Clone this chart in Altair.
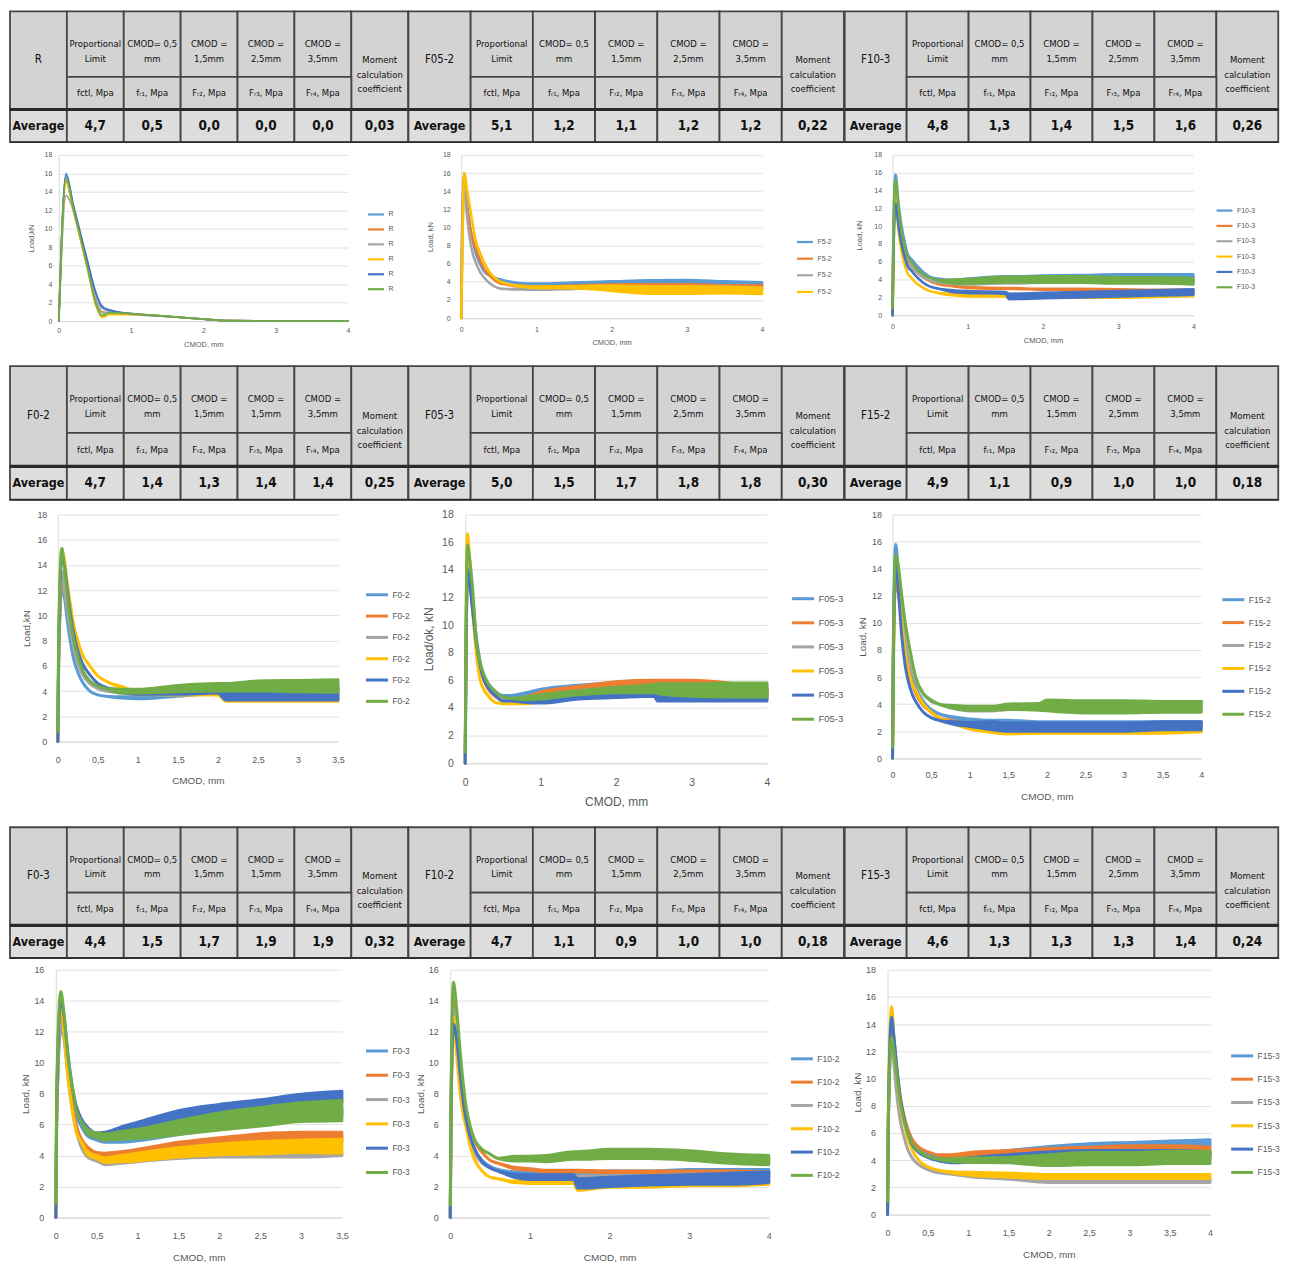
import altair as alt
import pandas as pd

K = 0.987


def s(v):
    return round(v * K, 2)


COLORS = ["#5B9BD5", "#ED7D31", "#A5A5A5", "#FFC000", "#4472C4", "#70AD47"]
TFONT = "'Liberation Sans Narrow', 'DejaVu Sans Condensed', 'Liberation Sans', sans-serif"
CFONT = "'Liberation Sans', Arial, sans-serif"

# ---------------- table texts / values ----------------
HEAD_TOP = ["Proportional\nLimit", "CMOD= 0,5\nmm", "CMOD =\n1,5mm", "CMOD =\n2,5mm", "CMOD =\n3,5mm"]
HEAD_TOP_F0 = ["Proportional\nLimit", "CMOD= 0,5\nmm", "CMOD =\n1,5mm", "CMOD =\n1,5mm", "CMOD =\n3,5mm"]
HEAD_SUB = ["fctl, Mpa", "fᵣ₁, Mpa", "Fᵣ₂, Mpa", "Fᵣ₃, Mpa", "Fᵣ₄, Mpa"]
HEAD_MOMENT = "Moment\ncalculation\ncoefficient"

AVG_R = [4.7, 0.5, 0.0, 0.0, 0.0, 0.03]
AVG_F05_2 = [5.1, 1.2, 1.1, 1.2, 1.2, 0.22]
AVG_F10_3 = [4.8, 1.3, 1.4, 1.5, 1.6, 0.26]
AVG_F0_2 = [4.7, 1.4, 1.3, 1.4, 1.4, 0.25]
AVG_F05_3 = [5.0, 1.5, 1.7, 1.8, 1.8, 0.30]
AVG_F15_2 = [4.9, 1.1, 0.9, 1.0, 1.0, 0.18]
AVG_F0_3 = [4.4, 1.5, 1.7, 1.9, 1.9, 0.32]
AVG_F10_2 = [4.7, 1.1, 0.9, 1.0, 1.0, 0.18]
AVG_F15_3 = [4.6, 1.3, 1.3, 1.3, 1.4, 0.24]

# ---------------- curves (CMOD mm, load kN, band width kN) ----------------
R_X = [0, 0.1, 0.2, 0.3, 0.4, 0.5, 0.6, 0.7, 1.0, 1.5, 2.0, 2.3, 3.0, 4.0]
R_Y = [
    [0, 16.0, 12.5, 9.3, 6.2, 3.2, 1.4, 1.1, 0.8, 0.5, 0.2, 0.05, 0, 0],
    [0, 15.2, 12.2, 9.0, 5.8, 2.6, 1.0, 0.9, 0.8, 0.5, 0.2, 0.05, 0, 0],
    [0, 13.6, 12.0, 9.0, 5.8, 2.6, 0.9, 0.9, 0.7, 0.5, 0.2, 0.05, 0, 0],
    [0, 15.0, 12.0, 8.8, 5.5, 2.0, 0.4, 0.7, 0.7, 0.5, 0.2, 0.05, 0, 0],
    [0, 15.8, 12.6, 9.5, 6.4, 3.4, 1.6, 1.2, 0.8, 0.5, 0.2, 0.05, 0, 0],
    [0, 15.5, 12.2, 9.0, 5.7, 2.2, 0.6, 0.9, 0.8, 0.5, 0.2, 0.05, 0, 0],
]

F5_2_X = [0, 0.01, 0.04, 0.08, 0.12, 0.16, 0.2, 0.25, 0.3, 0.4, 0.5, 0.6, 0.8, 1.0, 1.5, 2.0, 2.5, 3.0, 3.5, 4.0]
F5_2_Y = [
    [0, 9, 16.0, 12.5, 10.0, 8.3, 7.0, 6.0, 5.2, 4.6, 4.3, 4.1, 3.8, 3.7, 3.8, 3.9, 4.0, 4.0, 3.9, 3.8],
    [0, 7, 15.5, 12.0, 9.8, 8.5, 7.5, 6.4, 5.5, 4.5, 3.9, 3.7, 3.5, 3.4, 3.5, 3.6, 3.6, 3.6, 3.5, 3.5],
    [0, 6, 14.5, 11.0, 8.5, 6.9, 6.0, 5.1, 4.5, 3.7, 3.3, 3.2, 3.2, 3.2, 3.3, 3.4, 3.4, 3.4, 3.4, 3.3],
    [0, 5, 16.0, 14.0, 12.0, 10.0, 8.3, 7.2, 6.2, 4.8, 4.1, 3.8, 3.5, 3.4, 3.4, 3.3, 3.1, 3.1, 3.1, 3.0],
]
F5_2_W = [
    [0] * 12 + [0.1, 0.2, 0.25, 0.3, 0.35, 0.4, 0.3, 0.3],
    [0] * 12 + [0.1, 0.15, 0.2, 0.2, 0.25, 0.25, 0.25, 0.25],
    [0] * 12 + [0.1, 0.15, 0.15, 0.15, 0.15, 0.15, 0.15, 0.15],
    [0] * 12 + [0.1, 0.15, 0.2, 0.6, 0.8, 0.8, 0.7, 0.7],
]

F10_3_X = [0, 0.01, 0.04, 0.08, 0.12, 0.16, 0.2, 0.25, 0.3, 0.4, 0.5, 0.6, 0.8, 1.0, 1.5, 1.55, 2.0, 2.5, 3.0, 3.5, 4.0]
F10_3_Y = [
    [0, 8, 15.8, 12.5, 10.0, 8.3, 6.9, 6.3, 5.8, 4.9, 4.3, 4.1, 3.9, 4.0, 4.2, 4.2, 4.3, 4.3, 4.4, 4.4, 4.4],
    [0, 7, 14.5, 11.0, 8.8, 7.2, 6.2, 5.5, 5.0, 4.3, 3.8, 3.5, 3.3, 3.1, 3.0, 3.0, 2.9, 2.9, 2.85, 2.8, 2.8],
    [0, 7, 14.0, 10.5, 8.5, 7.0, 6.0, 5.4, 5.0, 4.3, 3.9, 3.7, 3.6, 3.6, 3.7, 3.7, 3.8, 3.8, 3.8, 3.8, 3.8],
    [0, 6, 13.5, 9.5, 7.2, 5.7, 4.7, 4.2, 3.7, 3.1, 2.7, 2.5, 2.3, 2.2, 2.2, 2.0, 2.1, 2.1, 2.1, 2.2, 2.3],
    [0, 6, 12.5, 10.0, 8.0, 6.6, 5.5, 5.0, 4.5, 3.7, 3.2, 3.0, 2.7, 2.6, 2.5, 2.1, 2.2, 2.3, 2.4, 2.5, 2.6],
    [0.8, 8, 15.2, 12.0, 9.5, 7.8, 6.6, 6.0, 5.4, 4.6, 4.2, 3.9, 3.8, 3.8, 4.0, 4.0, 4.0, 4.0, 3.9, 3.9, 3.8],
]
F10_3_W = [
    [0] * 12 + [0.1, 0.2, 0.3, 0.3, 0.3, 0.4, 0.4, 0.4, 0.4],
    [0] * 12 + [0.1, 0.1, 0.1, 0.1, 0.1, 0.1, 0.1, 0.1, 0.1],
    [0] * 12 + [0.2, 0.3, 0.3, 0.3, 0.3, 0.3, 0.3, 0.3, 0.3],
    [0] * 12 + [0.15, 0.2, 0.2, 0.3, 0.3, 0.3, 0.3, 0.3, 0.3],
    [0] * 12 + [0.2, 0.2, 0.2, 0.6, 0.6, 0.6, 0.6, 0.6, 0.6],
    [0] * 12 + [0.4, 0.5, 0.6, 0.6, 0.7, 0.7, 0.7, 0.7, 0.7],
]

F0_2_X = [0, 0.01, 0.05, 0.08, 0.12, 0.16, 0.2, 0.25, 0.3, 0.4, 0.5, 0.6, 0.8, 1.0, 1.5, 2.0, 2.1, 2.5, 3.0, 3.5]
F0_2_Y = [
    [0, 6, 12.0, 11.5, 9.5, 7.8, 6.5, 5.5, 4.8, 4.0, 3.7, 3.6, 3.5, 3.5, 3.7, 3.9, 3.9, 4.0, 4.1, 4.1],
    [0, 6, 12.5, 12.0, 10.5, 9.0, 7.6, 6.4, 5.5, 4.7, 4.3, 4.1, 4.0, 4.0, 4.0, 4.1, 4.1, 4.1, 4.2, 4.2],
    [0, 6, 13.5, 12.0, 10.3, 8.8, 7.4, 6.2, 5.4, 4.6, 4.2, 4.0, 3.9, 3.8, 3.9, 4.0, 4.0, 4.1, 4.1, 4.1],
    [0, 7, 15.3, 14.5, 12.5, 10.8, 9.2, 8.0, 7.0, 6.0, 5.2, 4.8, 4.3, 3.9, 3.8, 3.8, 3.4, 3.4, 3.4, 3.4],
    [0, 7, 14.5, 14.0, 12.0, 10.0, 8.5, 7.2, 6.3, 5.3, 4.6, 4.3, 4.0, 3.9, 3.9, 4.0, 3.6, 3.6, 3.6, 3.6],
    [0.8, 8, 15.3, 14.0, 11.5, 9.5, 8.0, 6.8, 5.8, 4.8, 4.4, 4.2, 4.0, 4.0, 4.2, 4.3, 4.3, 4.4, 4.4, 4.4],
]
F0_2_W = [
    [0] * 12 + [0.1, 0.2, 0.2, 0.2, 0.2, 0.2, 0.2, 0.2],
    [0] * 12 + [0.1, 0.2, 0.2, 0.2, 0.2, 0.2, 0.2, 0.2],
    [0] * 12 + [0.1, 0.2, 0.2, 0.2, 0.2, 0.2, 0.2, 0.2],
    [0] * 12 + [0.1, 0.2, 0.2, 0.2, 0.4, 0.4, 0.4, 0.4],
    [0] * 12 + [0.2, 0.3, 0.3, 0.3, 0.6, 0.6, 0.6, 0.6],
    [0] * 12 + [0.3, 0.3, 0.5, 0.6, 0.6, 0.8, 0.9, 1.0],
]

F05_3_X = [0, 0.01, 0.03, 0.06, 0.1, 0.15, 0.2, 0.25, 0.3, 0.4, 0.5, 0.6, 0.8, 1.0, 1.5, 2.0, 2.5, 2.55, 3.0, 3.5, 4.0]
F05_3_Y = [
    [0, 8, 14.5, 13.5, 11.5, 9.0, 7.3, 6.3, 5.8, 5.2, 4.9, 4.9, 5.0, 5.2, 5.5, 5.7, 5.8, 5.8, 5.8, 5.6, 5.3],
    [0, 7, 14.0, 13.0, 11.0, 8.6, 7.0, 6.0, 5.4, 4.8, 4.6, 4.6, 4.7, 5.0, 5.4, 5.7, 5.8, 5.8, 5.8, 5.6, 5.2],
    [0, 7, 14.5, 13.5, 11.2, 8.8, 7.1, 6.1, 5.6, 5.0, 4.7, 4.6, 4.7, 4.8, 5.1, 5.3, 5.4, 5.4, 5.3, 5.3, 5.2],
    [0, 9, 16.6, 14.5, 11.0, 7.8, 6.0, 5.3, 4.9, 4.4, 4.3, 4.3, 4.4, 4.6, 4.9, 5.1, 5.2, 5.2, 5.2, 5.1, 5.0],
    [0, 7, 14.0, 13.0, 11.0, 8.6, 7.0, 6.0, 5.5, 4.9, 4.5, 4.5, 4.5, 4.5, 4.8, 4.9, 5.0, 4.7, 4.7, 4.7, 4.7],
    [0.8, 9, 15.8, 14.8, 12.5, 8.8, 7.2, 6.4, 5.8, 5.2, 4.8, 4.7, 4.7, 4.8, 5.1, 5.3, 5.4, 5.4, 5.3, 5.3, 5.3],
]
F05_3_W = [
    [0] * 12 + [0.2, 0.3, 0.3, 0.3, 0.3, 0.3, 0.3, 0.3, 0.3],
    [0] * 12 + [0.2, 0.3, 0.3, 0.4, 0.4, 0.4, 0.4, 0.4, 0.4],
    [0] * 12 + [0.2, 0.2, 0.3, 0.3, 0.3, 0.3, 0.3, 0.3, 0.3],
    [0] * 12 + [0.2, 0.3, 0.3, 0.4, 0.4, 0.4, 0.4, 0.4, 0.4],
    [0] * 12 + [0.2, 0.3, 0.3, 0.3, 0.3, 0.4, 0.4, 0.4, 0.4],
    [0] * 12 + [0.2, 0.3, 0.3, 0.4, 0.6, 0.7, 0.9, 1.0, 1.0],
]

F15_2_X = [0, 0.01, 0.04, 0.08, 0.12, 0.16, 0.2, 0.25, 0.3, 0.4, 0.5, 0.6, 0.8, 1.0, 1.3, 1.5, 1.9, 2.0, 2.5, 3.0, 3.5, 4.0]
F15_2_Y = [
    [0, 8, 15.8, 13.5, 10.8, 8.5, 7.0, 5.9, 5.2, 4.2, 3.6, 3.3, 3.0, 2.8, 2.7, 2.7, 2.6, 2.6, 2.6, 2.6, 2.6, 2.6],
    [0, 6, 13.0, 12.0, 10.0, 8.2, 6.8, 5.6, 4.8, 3.9, 3.4, 3.0, 2.7, 2.5, 2.5, 2.4, 2.4, 2.4, 2.4, 2.4, 2.4, 2.4],
    [0, 7, 14.5, 13.0, 11.0, 9.0, 7.6, 6.5, 5.7, 4.7, 4.2, 4.0, 3.7, 3.6, 3.6, 3.7, 3.8, 3.8, 3.9, 4.0, 4.1, 4.1],
    [0, 6, 14.0, 12.5, 10.0, 8.0, 6.6, 5.6, 5.0, 4.0, 3.4, 3.0, 2.6, 2.3, 2.1, 2.0, 2.0, 2.0, 2.0, 2.0, 2.0, 2.1],
    [0, 7, 14.5, 12.0, 9.0, 7.0, 5.8, 4.8, 4.2, 3.4, 3.0, 2.8, 2.6, 2.5, 2.4, 2.3, 2.3, 2.3, 2.3, 2.3, 2.4, 2.4],
    [0.8, 8, 15.0, 14.0, 12.0, 10.2, 8.8, 7.3, 6.0, 4.8, 4.3, 4.0, 3.8, 3.7, 3.7, 3.8, 3.8, 3.9, 3.8, 3.8, 3.8, 3.8],
]
F15_2_W = [
    [0] * 12 + [0.1, 0.2, 0.2, 0.2, 0.2, 0.2, 0.2, 0.2, 0.2, 0.2],
    [0] * 12 + [0.1, 0.2, 0.2, 0.2, 0.2, 0.2, 0.2, 0.2, 0.2, 0.2],
    [0] * 12 + [0.1, 0.2, 0.2, 0.2, 0.2, 0.2, 0.2, 0.2, 0.2, 0.2],
    [0] * 12 + [0.1, 0.3, 0.4, 0.4, 0.3, 0.3, 0.3, 0.3, 0.3, 0.3],
    [0] * 12 + [0.2, 0.3, 0.6, 0.6, 0.6, 0.6, 0.6, 0.6, 0.6, 0.6],
    [0] * 12 + [0.2, 0.3, 0.3, 0.4, 0.5, 0.8, 0.9, 0.9, 0.8, 0.8],
]

F0_3_X = [0, 0.01, 0.06, 0.1, 0.15, 0.2, 0.25, 0.3, 0.4, 0.5, 0.6, 0.8, 1.0, 1.5, 2.0, 2.5, 3.0, 3.5]
F0_3_Y = [
    [0, 6, 12.0, 11.8, 9.8, 8.0, 6.6, 6.0, 5.3, 5.1, 5.0, 5.0, 5.1, 5.5, 5.9, 6.3, 6.6, 6.8],
    [0, 6, 13.0, 12.0, 9.5, 7.5, 6.0, 5.2, 4.4, 4.1, 4.0, 4.1, 4.2, 4.6, 4.9, 5.1, 5.2, 5.2],
    [0, 6, 12.5, 11.5, 9.0, 7.0, 5.6, 4.7, 3.9, 3.7, 3.5, 3.6, 3.7, 3.9, 4.0, 4.0, 4.0, 4.1],
    [0, 7, 14.0, 12.0, 9.0, 7.0, 5.5, 5.0, 4.1, 3.9, 3.7, 3.8, 3.9, 4.2, 4.4, 4.5, 4.6, 4.6],
    [0, 7, 14.0, 13.0, 10.5, 8.5, 7.2, 6.5, 5.6, 5.3, 5.3, 5.6, 5.9, 6.6, 7.0, 7.3, 7.6, 7.8],
    [0.9, 8, 14.6, 13.2, 10.3, 8.5, 7.0, 6.3, 5.5, 5.3, 5.2, 5.3, 5.4, 5.8, 6.2, 6.5, 6.8, 6.9],
]
F0_3_W = [
    [0] * 8 + [0.2, 0.2, 0.3, 0.3, 0.3, 0.3, 0.3, 0.3, 0.3, 0.3],
    [0] * 8 + [0.2, 0.2, 0.3, 0.3, 0.4, 0.5, 0.5, 0.6, 0.6, 0.6],
    [0] * 8 + [0.1, 0.1, 0.2, 0.2, 0.2, 0.2, 0.2, 0.2, 0.2, 0.2],
    [0] * 8 + [0.2, 0.2, 0.3, 0.4, 0.5, 0.6, 0.7, 0.8, 0.8, 0.9],
    [0] * 8 + [0.3, 0.3, 0.4, 0.5, 0.5, 0.6, 0.6, 0.6, 0.7, 0.7],
    [0] * 8 + [0.3, 0.3, 0.4, 0.5, 0.6, 0.9, 1.1, 1.2, 1.2, 1.3],
]

F10_2_X = [0, 0.01, 0.04, 0.08, 0.12, 0.16, 0.2, 0.25, 0.3, 0.4, 0.5, 0.6, 0.8, 1.0, 1.2, 1.55, 1.6, 2.0, 2.5, 3.0, 3.5, 4.0]
F10_2_Y = [
    [0, 7, 14.0, 12.5, 10.0, 8.0, 6.6, 5.3, 4.5, 3.7, 3.3, 3.1, 2.9, 2.8, 2.8, 2.8, 2.8, 2.9, 2.9, 3.0, 3.0, 3.0],
    [0, 7, 14.0, 12.5, 10.2, 8.3, 7.0, 5.8, 5.0, 4.2, 3.7, 3.5, 3.2, 3.1, 3.0, 3.0, 3.0, 2.95, 2.95, 2.95, 2.95, 2.9],
    [0, 6, 13.5, 11.5, 9.0, 7.2, 6.0, 4.9, 4.2, 3.5, 3.2, 3.0, 2.7, 2.6, 2.6, 2.6, 2.6, 2.6, 2.6, 2.7, 2.7, 2.7],
    [0, 6, 13.0, 10.5, 8.2, 6.7, 5.8, 4.6, 3.8, 3.0, 2.6, 2.5, 2.3, 2.3, 2.3, 2.3, 1.9, 2.1, 2.1, 2.2, 2.2, 2.3],
    [0, 7, 12.5, 11.5, 9.5, 7.6, 6.3, 5.2, 4.5, 3.6, 3.2, 3.0, 2.7, 2.6, 2.6, 2.6, 2.2, 2.3, 2.4, 2.45, 2.5, 2.6],
    [0.8, 8, 15.2, 13.5, 11.0, 8.8, 7.1, 5.9, 5.1, 4.4, 4.1, 3.8, 3.8, 3.8, 3.8, 4.0, 4.0, 4.1, 4.1, 4.0, 3.8, 3.7],
]
F10_2_W = [
    [0] * 12 + [0.1, 0.2, 0.2, 0.2, 0.2, 0.2, 0.2, 0.2, 0.2, 0.2],
    [0] * 12 + [0.1, 0.1, 0.1, 0.1, 0.1, 0.1, 0.1, 0.1, 0.1, 0.1],
    [0] * 12 + [0.1, 0.2, 0.2, 0.2, 0.2, 0.2, 0.2, 0.2, 0.2, 0.2],
    [0] * 12 + [0.1, 0.2, 0.2, 0.2, 0.3, 0.3, 0.3, 0.3, 0.3, 0.3],
    [0] * 12 + [0.2, 0.3, 0.3, 0.3, 0.6, 0.6, 0.6, 0.6, 0.7, 0.7],
    [0] * 12 + [0.3, 0.3, 0.4, 0.5, 0.5, 0.6, 0.6, 0.6, 0.6, 0.6],
]

F15_3_X = [0, 0.01, 0.05, 0.08, 0.12, 0.16, 0.2, 0.25, 0.3, 0.4, 0.5, 0.6, 0.8, 1.0, 1.5, 2.0, 2.5, 3.0, 3.5, 4.0]
F15_3_Y = [
    [0, 7, 14.0, 12.5, 10.2, 8.4, 7.2, 6.2, 5.5, 4.8, 4.5, 4.3, 4.2, 4.3, 4.5, 4.8, 5.0, 5.1, 5.2, 5.3],
    [0, 7, 14.0, 12.8, 10.5, 8.6, 7.4, 6.3, 5.6, 4.9, 4.6, 4.4, 4.3, 4.4, 4.5, 4.6, 4.7, 4.8, 4.8, 4.7],
    [0, 6, 13.0, 11.0, 8.5, 6.8, 5.8, 4.8, 4.2, 3.6, 3.3, 3.1, 3.0, 2.9, 2.7, 2.5, 2.5, 2.5, 2.5, 2.5],
    [0, 8, 15.3, 13.0, 10.0, 8.0, 6.8, 5.6, 4.8, 3.9, 3.5, 3.3, 3.1, 3.0, 2.9, 2.8, 2.8, 2.8, 2.8, 2.8],
    [0, 7, 14.5, 13.0, 10.5, 8.5, 7.2, 6.0, 5.2, 4.5, 4.2, 4.0, 3.9, 4.0, 4.2, 4.4, 4.5, 4.5, 4.5, 4.4],
    [1.0, 7, 13.0, 12.0, 10.0, 8.2, 7.0, 6.0, 5.3, 4.6, 4.3, 4.1, 4.0, 4.0, 4.0, 4.0, 4.1, 4.1, 4.2, 4.2],
]
F15_3_W = [
    [0] * 12 + [0.2, 0.3, 0.4, 0.4, 0.4, 0.4, 0.4, 0.4],
    [0] * 12 + [0.2, 0.3, 0.4, 0.5, 0.5, 0.5, 0.5, 0.5],
    [0] * 12 + [0.1, 0.2, 0.2, 0.3, 0.3, 0.3, 0.3, 0.3],
    [0] * 12 + [0.1, 0.2, 0.3, 0.3, 0.3, 0.3, 0.3, 0.3],
    [0] * 12 + [0.2, 0.3, 0.4, 0.4, 0.4, 0.4, 0.4, 0.4],
    [0] * 12 + [0.2, 0.3, 0.4, 0.8, 0.9, 0.9, 0.9, 0.9],
]

XT_4 = [0, 1, 2, 3, 4]
XT_35 = [0, 0.5, 1, 1.5, 2, 2.5, 3, 3.5]
XT_4H = [0, 0.5, 1, 1.5, 2, 2.5, 3, 3.5, 4]

# ---------------- helpers ----------------
RES = dict(x="independent", y="independent", color="independent",
           stroke="independent", fill="independent")


def spacer(w, h):
    w, h = max(w, 1), max(h, 1)
    return alt.Chart(pd.DataFrame({"v": [0]})).mark_point(opacity=0, size=1).encode(
        x=alt.value(w / 2), y=alt.value(h / 2)
    ).properties(width=w, height=h)


def fmt(v, d):
    return f"{v:.{d}f}".replace(".", ",")


def table_chart(label, avg, tops, w, h):
    cells = [(0, 1, 0, 3, label, 11.5)]
    for i, t in enumerate(tops):
        cells.append((i + 1, i + 2, 0, 2, t, 9.5))
    cells.append((6, 7, 0, 3, HEAD_MOMENT, 9.5))
    for i, t in enumerate(HEAD_SUB):
        cells.append((i + 1, i + 2, 2, 3, t, 9.5))
    cells.append((0, 1, 3, 4, "Average", 12.5))
    for i, v in enumerate(avg):
        cells.append((i + 1, i + 2, 3, 4, fmt(v, 2 if i == 5 else 1), 13.5))
    df = pd.DataFrame(cells, columns=["c0", "c1", "r0", "r1", "txt", "fs"])
    df["band"] = ["avg" if r >= 3 else "head" for r in df["r0"]]
    xs = alt.Scale(domain=[0, 7], nice=False, zero=False)
    ys = alt.Scale(domain=[0, 4], nice=False, zero=False, reverse=True)
    base = alt.Chart(df)
    rect = base.mark_rect(stroke="#454545", strokeWidth=1.8).encode(
        x=alt.X("c0:Q", scale=xs, axis=None), x2="c1:Q",
        y=alt.Y("r0:Q", scale=ys, axis=None), y2="r1:Q",
        fill=alt.Fill("band:N", scale=alt.Scale(domain=["head", "avg"], range=["#d3d3d3", "#dddddd"]), legend=None),
    )

    def txt(filt, weight):
        return base.transform_filter(filt).transform_calculate(
            cx="(datum.c0 + datum.c1) / 2", cy="(datum.r0 + datum.r1) / 2"
        ).mark_text(font=TFONT, lineBreak="\n", lineHeight=14.5, color="#111111",
                    align="center", baseline="middle", fontWeight=weight).encode(
            x=alt.X("cx:Q", scale=xs, axis=None), y=alt.Y("cy:Q", scale=ys, axis=None),
            text="txt:N", size=alt.Size("fs:Q", scale=None),
        )

    rdf = pd.DataFrame({"c0": [0, 0], "c1": [7, 7], "r": [3, 4], "sw": [3.2, 1.5]})
    rules = alt.Chart(rdf).mark_rule(color="#2a2a2a").encode(
        x=alt.X("c0:Q", scale=xs, axis=None), x2="c1:Q",
        y=alt.Y("r:Q", scale=ys, axis=None),
        strokeWidth=alt.StrokeWidth("sw:Q", scale=None),
    )
    return alt.layer(rect, txt("datum.r0 < 3", "normal"), txt("datum.r0 >= 3", "bold"), rules).properties(
        width=w, height=h)


def curve_chart(p, st, top):
    X, Ys, Ws = p["X"], p["Y"], p["W"]
    names = [f"{p['name']}#{i + 1}" for i in range(len(Ys))]
    recs = []
    for i, ys in enumerate(Ys):
        ws = Ws[i] if Ws is not None else [0.0] * len(X)
        assert len(ys) == len(X) and len(ws) == len(X), (p["name"], i)
        for x, y, wd in zip(X, ys, ws):
            recs.append({"x": x, "lo": y - wd / 2, "hi": y + wd / 2, "s": names[i]})
    df = pd.DataFrame(recs)
    lab = p.get("lab", st["lab"])
    tit = p.get("tit", st["tit"])
    xaxis = alt.Axis(values=p["xt"], labelExpr="replace('' + datum.value, '.', ',')", title="CMOD, mm",
                     grid=False, ticks=False, domainColor="#d9d9d9", labelColor="#595959",
                     titleColor="#595959", labelFont=CFONT, titleFont=CFONT, labelFontSize=lab,
                     titleFontSize=tit, labelPadding=p["lpx"], titlePadding=p["tpx"],
                     titleFontWeight="normal", labelFlush=False, labelOverlap=False)
    yaxis = alt.Axis(values=list(range(0, p["ymax"] + 1, 2)), title=p["yt"], grid=True,
                     gridColor="#e1e1e1", ticks=False, domainColor="#d9d9d9", labelColor="#595959",
                     titleColor="#595959", labelFont=CFONT, titleFont=CFONT, labelFontSize=lab,
                     titleFontSize=tit, labelPadding=p["lpy"], titlePadding=p["tpy"],
                     titleFontWeight="normal", labelFlush=False, labelOverlap=False)
    sc = alt.Scale(domain=names, range=COLORS[:len(Ys)])

    def legend():
        return alt.Legend(orient="none", legendX=s(p["lx"]), legendY=s(p["ly"]), title=None,
                          symbolType="stroke", symbolStrokeWidth=st["ssw"], symbolSize=st["ssz"],
                          labelExpr="split(datum.label, '#')[0]", labelFontSize=p.get("leg", st["leg"]),
                          labelColor="#595959", labelFont=CFONT, rowPadding=p["rp"], labelOffset=3)

    w = s(p["x1"]) - s(p["x0"])
    h = s(p["bot"]) - s(top)
    return alt.Chart(df).mark_area(interpolate="monotone", strokeWidth=p["sw"], fillOpacity=1,
                                   strokeJoin="round", strokeCap="round").encode(
        x=alt.X("x:Q", scale=alt.Scale(domain=[0, p["xmax"]], nice=False), axis=xaxis),
        y=alt.Y("lo:Q", scale=alt.Scale(domain=[0, p["ymax"]], nice=False), axis=yaxis),
        y2="hi:Q",
        color=alt.Color("s:N", scale=sc, legend=legend()),
        stroke=alt.Stroke("s:N", scale=sc, legend=legend()),
    ).properties(width=w, height=h)


def hrow(items):
    return alt.hconcat(*items, spacing=0, bounds="flush").resolve_scale(**RES)


def chart_row(panels, st, top):
    items = []
    prev = 0
    for p in panels:
        items.append(spacer(s(p["x0"]) - s(prev), 1))
        items.append(curve_chart(p, st, top))
        prev = p["x1"]
    over = max(p.get("lab", st["lab"]) for p in panels) / 2
    below = max(s(p["bot"]) - s(top) + p["lpx"] + p.get("lab", st["lab"]) + p["tpx"] + p.get("tit", st["tit"])
                for p in panels)
    return hrow(items), over, below


def table_row(specs, top, bot):
    widths = [405, 443, 441]
    h = s(bot) - s(top)
    tabs = [table_chart(lbl, avg, tops, s(sum(widths[:i + 1])) - s(sum(widths[:i])), h)
            for i, (lbl, avg, tops) in enumerate(specs)]
    return hrow(tabs), 0.9, h + 0.9


ST1 = dict(lab=7, tit=7.5, leg=7, ssz=256, ssw=2.2)
ST2 = dict(lab=9, tit=10, leg=8.5, ssz=484, ssw=3)

TOP1, TOP2, TOP3 = 144, 507, 969

ROW1 = [
    dict(name="R", X=R_X, Y=R_Y, W=None, x0=49, x1=343, bot=313, xmax=4, ymax=18, xt=XT_4,
         yt="Load,kN", lx=313, ly=51, rp=1, lpx=6, tpx=7, lpy=7, tpy=9, sw=1.8),
    dict(name="F5-2", X=F5_2_X, Y=F5_2_Y, W=F5_2_W, x0=457, x1=763, bot=310, xmax=4, ymax=18,
         xt=XT_4, yt="Load, kN", lx=340, ly=79, rp=2.7, lpx=7, tpx=7, lpy=11, tpy=8, sw=2.6),
    dict(name="F10-3", X=F10_3_X, Y=F10_3_Y, W=F10_3_W, x0=894, x1=1200, bot=307, xmax=4, ymax=18,
         xt=XT_4, yt="Load, kN", lx=328, ly=47, rp=1.4, lpx=7, tpx=7, lpy=11, tpy=10, sw=2.6),
]
ROW2 = [
    dict(name="F0-2", X=F0_2_X, Y=F0_2_Y, W=F0_2_W, x0=48, x1=333, bot=738, xmax=3.5, ymax=18,
         xt=XT_35, yt="Load,kN", lx=312, ly=69, rp=2.4, lpx=14, tpx=11, lpy=11, tpy=5, sw=3),
    dict(name="F05-3", X=F05_3_X, Y=F05_3_Y, W=F05_3_W, x0=461, x1=768, bot=760, xmax=4, ymax=18,
         xt=XT_4, yt="Load/ok, kN", lx=331, ly=73, rp=5.2, lpx=14, tpx=9, lpy=12, tpy=6, sw=3,
         lab=10.5, tit=12, leg=9.5),
    dict(name="F15-2", X=F15_2_X, Y=F15_2_Y, W=F15_2_W, x0=894, x1=1208, bot=755, xmax=4, ymax=18,
         xt=XT_4H, yt="Load, kN", lx=334, ly=74, rp=4, lpx=12, tpx=12, lpy=11, tpy=4, sw=3),
]
ROW3 = [
    dict(name="F0-3", X=F0_3_X, Y=F0_3_Y, W=F0_3_W, x0=46, x1=337, bot=1221, xmax=3.5, ymax=16,
         xt=XT_35, yt="Load, kN", lx=314, ly=70, rp=5.4, lpx=14, tpx=12, lpy=12, tpy=3, sw=3),
    dict(name="F10-2", X=F10_2_X, Y=F10_2_Y, W=F10_2_W, x0=446, x1=770, bot=1221, xmax=4, ymax=16,
         xt=XT_4, yt="Load, kN", lx=345, ly=78, rp=4.4, lpx=14, tpx=12, lpy=12, tpy=3, sw=3),
    dict(name="F15-3", X=F15_3_X, Y=F15_3_Y, W=F15_3_W, x0=890, x1=1218, bot=1218, xmax=4, ymax=18,
         xt=XT_4H, yt="Load, kN", lx=348, ly=75, rp=4.4, lpx=14, tpx=12, lpy=12, tpy=3, sw=3),
]

T1 = [("R", AVG_R, HEAD_TOP), ("F05-2", AVG_F05_2, HEAD_TOP), ("F10-3", AVG_F10_3, HEAD_TOP)]
T2 = [("F0-2", AVG_F0_2, HEAD_TOP_F0), ("F05-3", AVG_F05_3, HEAD_TOP), ("F15-2", AVG_F15_2, HEAD_TOP)]
T3 = [("F0-3", AVG_F0_3, HEAD_TOP_F0), ("F10-2", AVG_F10_2, HEAD_TOP), ("F15-3", AVG_F15_3, HEAD_TOP)]

blocks = [
    (0, table_row(T1, 0, 133)),
    (TOP1, chart_row(ROW1, ST1, TOP1)),
    (357, table_row(T2, 357, 493)),
    (TOP2, chart_row(ROW2, ST2, TOP2)),
    (825, table_row(T3, 825, 958)),
    (TOP3, chart_row(ROW3, ST2, TOP3)),
]

rows = []
cur = 0.0
for ref_top, (obj, over, below) in blocks:
    top_bound = s(ref_top) + 0.9 - over
    gap = top_bound - cur
    if gap > 1:
        rows.append(spacer(1, gap))
    rows.append(obj)
    cur = max(cur, top_bound) + over + below

chart = alt.vconcat(*rows, spacing=0).resolve_scale(**RES).properties(
    padding=0, background="white").configure_view(stroke=None)

chart.save("out.html", embed_options={"renderer": "svg", "actions": False})
